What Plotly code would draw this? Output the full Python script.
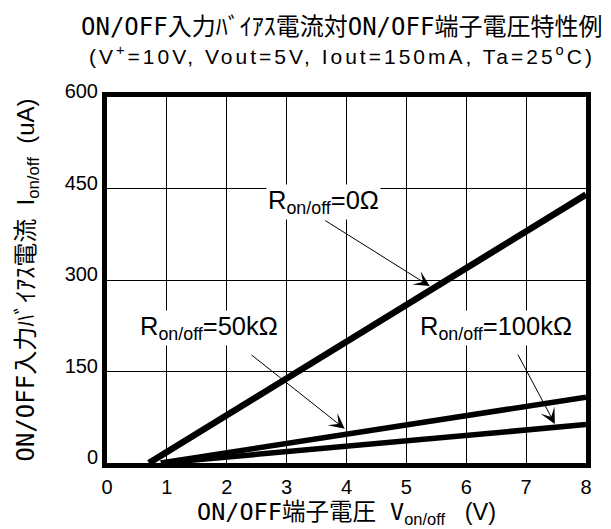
import plotly.graph_objects as go

# Data
v_r0 = [0.7, 8.0]
i_r0 = [0.0, 440.0]
v_r50k = [0.9, 8.0]
i_r50k = [0.0, 108.0]
v_r100k = [0.9, 8.0]
i_r100k = [0.0, 63.0]

x_ticks = [0, 1, 2, 3, 4, 5, 6, 7, 8]
y_ticks = [0, 150, 300, 450, 600]

JP = "DejaVu Sans Mono, Noto Sans CJK JP"
AR = "Liberation Sans, Arial"
NB = "\u00a0"

fig = go.Figure()
fig.add_trace(go.Scatter(x=v_r0, y=i_r0, mode="lines", line=dict(color="black", width=6.5), showlegend=False))
fig.add_trace(go.Scatter(x=v_r50k, y=i_r50k, mode="lines", line=dict(color="black", width=5.5), showlegend=False))
fig.add_trace(go.Scatter(x=v_r100k, y=i_r100k, mode="lines", line=dict(color="black", width=5.5), showlegend=False))

labels = [
    ("R<sub>on/off</sub>=0Ω", 3.62, 428),
    ("R<sub>on/off</sub>=50kΩ", 1.71, 221),
    ("R<sub>on/off</sub>=100kΩ", 6.5, 221),
]
for txt, x, y in labels:
    fig.add_annotation(x=x, y=y, text=txt, showarrow=False, bgcolor="white",
                       font=dict(family=AR, size=25.5, color="black"), borderpad=1)

arrows = [
    (5.39, 290, 3.62, 399),
    (3.97, 56, 2.39, 179),
    (7.48, 64, 6.85, 180),
]
for x, y, ax, ay in arrows:
    fig.add_annotation(x=x, y=y, ax=ax, ay=ay, xref="x", yref="y", axref="x", ayref="y",
                       text="", showarrow=True, arrowhead=3, arrowsize=2.6, arrowwidth=1,
                       arrowcolor="black")

fig.add_annotation(xref="paper", yref="paper", x=0.49, y=1, yshift=89 - 19, showarrow=False,
                   text="ON/OFF入力ﾊﾞｲｱｽ電流対ON/OFF端子電圧特性例", xanchor="center", yanchor="middle",
                   font=dict(family=JP, size=24, color="black"))
fig.add_annotation(xref="paper", yref="paper", x=0.49, y=1, yshift=89 - 47, showarrow=False,
                   text='<span style="letter-spacing:3px">(V<sup>+</sup>=10V, Vout=5V, Iout=150mA, Ta=25<sup>o</sup>C)</span>',
                   xanchor="center", yanchor="middle",
                   font=dict(family=AR, size=21, color="black"))

fig.update_layout(
    width=611, height=529,
    margin=dict(l=99, r=33, t=89, b=74),
    paper_bgcolor="white", plot_bgcolor="white",
    xaxis=dict(range=[0, 8], tickvals=x_ticks, ticktext=[str(v) for v in x_ticks],
               showgrid=True, gridcolor="black", gridwidth=1, zeroline=False,
               showline=True, linecolor="black", linewidth=5, mirror=True, ticks="",
               ticklabelstandoff=2,
               tickfont=dict(family=AR, size=20, color="black"),
               title=dict(text='<span style="font-family:DejaVu Sans Mono, Noto Sans CJK JP">ON/OFF端子電圧' + NB + 'V</span><sub>on/off</sub>' + NB * 3 + '(V)',
                          font=dict(family=AR, size=23.5, color="black"), standoff=0)),
    yaxis=dict(range=[0, 600], tickvals=y_ticks, ticktext=[str(v) for v in y_ticks],
               showgrid=True, gridcolor="black", gridwidth=1, zeroline=False,
               showline=True, linecolor="black", linewidth=5, mirror=True, ticks="",
               ticklabelshift=-6,
               tickfont=dict(family=AR, size=20, color="black"),
               title=dict(text='<span style="font-family:DejaVu Sans Mono, Noto Sans CJK JP">ON/OFF入力ﾊﾞｲｱｽ電流</span>' + NB * 2 + 'I<sub>on/off</sub>' + NB * 2 + '(uA)',
                          font=dict(family=AR, size=24, color="black"), standoff=25)),
)

fig.write_html("out.html")
